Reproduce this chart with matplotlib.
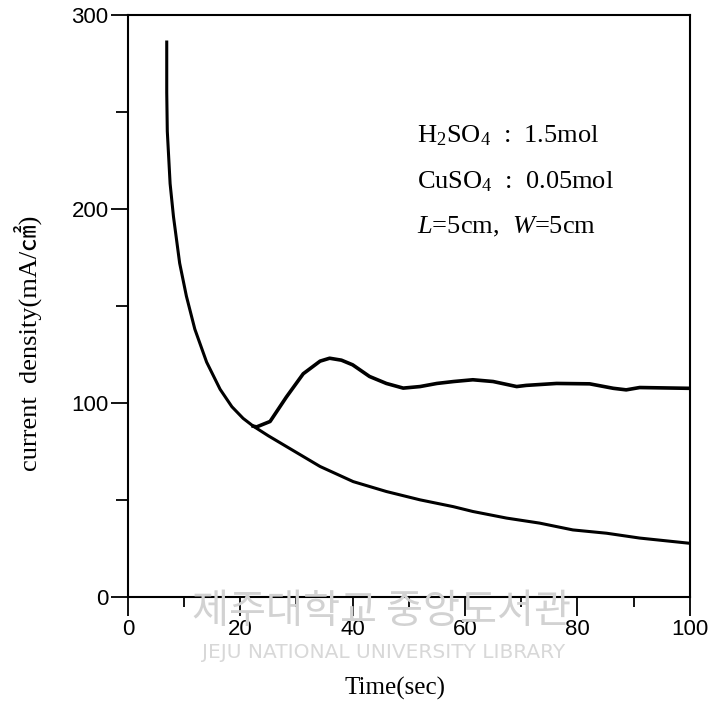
import matplotlib.pyplot as plt
from matplotlib.ticker import MultipleLocator

# initial decay (shared by both runs)
t_decay = [6.9, 6.9, 7.0, 7.5, 8.1, 9.2, 10.4, 11.9, 14.0, 16.4, 18.5, 20.5, 22.3]
j_decay = [286, 260, 240, 213, 196, 172, 155, 138, 121, 107, 98, 92, 88]

# lower branch
t_low = [22.3, 25.0, 28.2, 34.2, 40.1, 46.0, 52.0, 57.9, 61.4, 67.4, 73.3,
         79.2, 85.2, 91.1, 99.7]
j_low = [88, 83, 77.5, 67.2, 59.4, 54.3, 50.0, 46.5, 44.0, 40.6, 38.0,
         34.5, 32.8, 30.3, 27.7]

# upper branch
t_up = [22.3, 22.9, 25.3, 28.2, 31.2, 34.2, 35.9, 38.0, 40.0, 43.0, 46.0,
        49.0, 52.0, 55.0, 58.0, 61.4, 65.0, 69.2, 70.9, 76.3, 82.2, 86.4,
        88.7, 91.1, 99.7]
j_up = [88, 87.6, 90.4, 103, 115, 121.5, 123, 122, 119.6, 113.6, 110,
        107.6, 108.4, 110, 111, 111.9, 111, 108.4, 109, 110, 109.8, 107.5,
        106.7, 107.9, 107.5]

notes = ['H$_2$SO$_4$  :  1.5mol', 'CuSO$_4$  :  0.05mol',
         '$L$=5cm,  $W$=5cm']

plt.rcParams['mathtext.fontset'] = 'custom'
plt.rcParams['mathtext.rm'] = 'Liberation Serif'
plt.rcParams['mathtext.it'] = 'Liberation Serif:italic'

fig = plt.figure(figsize=(7.11, 7.08), dpi=100)
ax = fig.add_axes([0.180, 0.157, 0.790, 0.822])

# faint library watermark behind everything
fig.text(0.537, 0.137, '제주대학교 중앙도서관', family=['Noto Sans CJK KR'],
         fontsize=29, color='#d2d2d2', ha='center', va='center', zorder=0)
fig.text(0.540, 0.079, 'JEJU NATIONAL UNIVERSITY LIBRARY',
         family=['DejaVu Sans'], fontsize=14.5, color='#d8d8d8',
         ha='center', va='center', zorder=0)
ax.patch.set_alpha(0)

ax.plot(t_decay + t_low[1:], j_decay + j_low[1:], color='black', lw=2.2)
ax.plot(t_up, j_up, color='black', lw=2.6)

ax.set_xlim(0, 100)
ax.set_ylim(0, 300)
ax.xaxis.set_major_locator(MultipleLocator(20))
ax.xaxis.set_minor_locator(MultipleLocator(10))
ax.yaxis.set_major_locator(MultipleLocator(100))
ax.yaxis.set_minor_locator(MultipleLocator(50))
ax.tick_params(axis='x', which='major', direction='out', length=14,
               width=1.3, labelsize=16, pad=2)
ax.tick_params(axis='x', which='minor', direction='out', length=7, width=1.3)
ax.tick_params(axis='y', which='major', direction='out', length=12,
               width=1.3, labelsize=16, pad=2)
ax.tick_params(axis='y', which='minor', direction='out', length=9, width=1.3)
for lab in ax.get_xticklabels() + ax.get_yticklabels():
    lab.set_family('Liberation Sans')
for s in ax.spines.values():
    s.set_linewidth(1.5)

fig.text(395 / 711, 1 - 688 / 708, 'Time(sec)', family='Liberation Serif',
         fontsize=18, ha='center', va='center')
fig.text(28 / 711, 1 - 343 / 708, 'current  density(mA/㎠)',
         family=['Liberation Serif', 'Noto Sans CJK KR'], fontsize=19,
         rotation=90, ha='center', va='center')

for i, s in enumerate(notes):
    ax.text(51.4, 237.6 - i * 23.4, s, family='Liberation Serif',
            fontsize=19, va='center', ha='left')

fig.savefig('out.png', dpi=100)
